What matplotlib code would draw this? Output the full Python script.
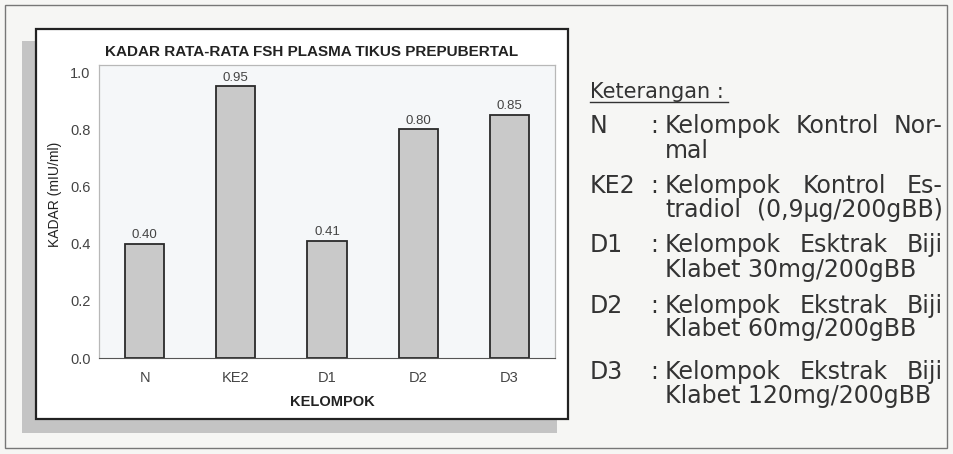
import matplotlib
matplotlib.use("Agg")
import matplotlib.pyplot as plt
from matplotlib.patches import Rectangle
from matplotlib.lines import Line2D

# data
kelompok = ["N", "KE2", "D1", "D2", "D3"]
kadar = [0.40, 0.95, 0.41, 0.80, 0.85]
kadar_label = ["0.40", "0.95", "0.41", "0.80", "0.85"]
yticks = [0.0, 0.2, 0.4, 0.6, 0.8, 1.0]

ket_codes = ["N", "KE2", "D1", "D2", "D3"]
ket_text = [
    ["Kelompok Kontrol Nor-", "mal"],
    ["Kelompok Kontrol Es-", "tradiol (0,9µg/200gBB)"],
    ["Kelompok Esktrak Biji", "Klabet 30mg/200gBB"],
    ["Kelompok Ekstrak Biji", "Klabet 60mg/200gBB"],
    ["Kelompok Ekstrak Biji", "Klabet 120mg/200gBB"],
]

W, H = 954, 454
plt.rcParams["font.family"] = ["Liberation Sans", "DejaVu Sans"]

fig = plt.figure(figsize=(W / 100, H / 100), dpi=100)
fig.patch.set_facecolor("#f6f6f4")


def fx(x):
    return x / W


def fy(y):
    return 1 - y / H


def box(x0, y0, x1, y1, **kw):
    r = Rectangle((fx(x0), fy(y1)), fx(x1) - fx(x0), fy(y0) - fy(y1),
                  transform=fig.transFigure, zorder=-1, **kw)
    fig.patches.append(r)


# outer frame, shadow and chart box
box(5, 5, 947, 448, facecolor="none", edgecolor="#777777", lw=1.0)
box(22, 41, 557, 433, facecolor="#c4c4c4", edgecolor="none")
box(36, 29, 568, 419, facecolor="white", edgecolor="#222222", lw=1.6)

ax = fig.add_axes([fx(99), fy(358), fx(555) - fx(99), fy(65) - fy(358)])
ax.set_facecolor("#f5f7f9")
x = range(len(kelompok))
bars = ax.bar(x, kadar, width=0.43, color="#c9c9c9", edgecolor="#2a2a2a", linewidth=1.3)
for i in x:
    ax.annotate(kadar_label[i], (i, kadar[i]), xytext=(0, 2), textcoords="offset points",
                ha="center", va="bottom", fontsize=9.5, color="#444444")

ax.set_xlim(-0.5, len(kelompok) - 0.5)
ax.set_ylim(0, 1.025)
ax.set_yticks(yticks)
ax.set_yticklabels(["%.1f" % v for v in yticks])
ax.set_xticks(list(x))
ax.set_xticklabels(kelompok)
ax.tick_params(length=0, labelsize=10.5, labelcolor="#444444")
ax.tick_params(axis="y", pad=6)
ax.tick_params(axis="x", pad=9)
for s in ["top", "right", "left"]:
    ax.spines[s].set_color("#b8b8b8")
    ax.spines[s].set_linewidth(0.9)
ax.spines["bottom"].set_color("#555555")

fig.text(fx(312), fy(52), "KADAR RATA-RATA FSH PLASMA TIKUS PREPUBERTAL",
         ha="center", va="center", fontsize=11, fontweight="bold", color="#222222")
fig.text(fx(55), fy(194), "KADAR (mIU/ml)", rotation=90, ha="center", va="center",
         fontsize=10, color="#222222")
fig.text(fx(332), fy(402), "KELOMPOK", ha="center", va="center",
         fontsize=10.5, fontweight="bold", color="#222222")

# keterangan (legend text at the right)
txt_color = "#333333"
ket_font = "DejaVu Sans"
fig.text(fx(590), fy(98), "Keterangan :", ha="left", va="baseline",
         fontsize=15, color=txt_color, family=ket_font)
fig.lines.append(Line2D([fx(590), fx(728)], [fy(102), fy(102)],
                        transform=fig.transFigure, color=txt_color, lw=1.0))

baselines = [(133, 158), (193, 217), (252, 277), (313, 336), (379, 403)]
x_code, x_colon, x_left, x_right = 590, 650, 665, 943
fs = 17

renderer = fig.canvas.get_renderer()


def justify(line, y):
    words = line.split(" ")
    objs = [fig.text(fx(x_left), fy(y), w, ha="left", va="baseline",
                     fontsize=fs, color=txt_color, family=ket_font) for w in words]
    widths = [o.get_window_extent(renderer).width for o in objs]
    gap = (x_right - x_left - sum(widths)) / (len(words) - 1)
    pos = x_left
    for o, w in zip(objs, widths):
        o.set_x(fx(pos))
        pos += w + gap


for i in range(len(ket_codes)):
    y1, y2 = baselines[i]
    fig.text(fx(x_code), fy(y1), ket_codes[i], ha="left", va="baseline",
             fontsize=fs, color=txt_color, family=ket_font)
    fig.text(fx(x_colon), fy(y1), ":", ha="left", va="baseline",
             fontsize=fs, color=txt_color, family=ket_font)
    first, second = ket_text[i]
    justify(first, y1)
    if i == 1:
        justify(second, y2)
    else:
        fig.text(fx(x_left), fy(y2), second, ha="left", va="baseline",
                 fontsize=fs, color=txt_color, family=ket_font)

fig.savefig("out.png", dpi=100, facecolor=fig.get_facecolor())
